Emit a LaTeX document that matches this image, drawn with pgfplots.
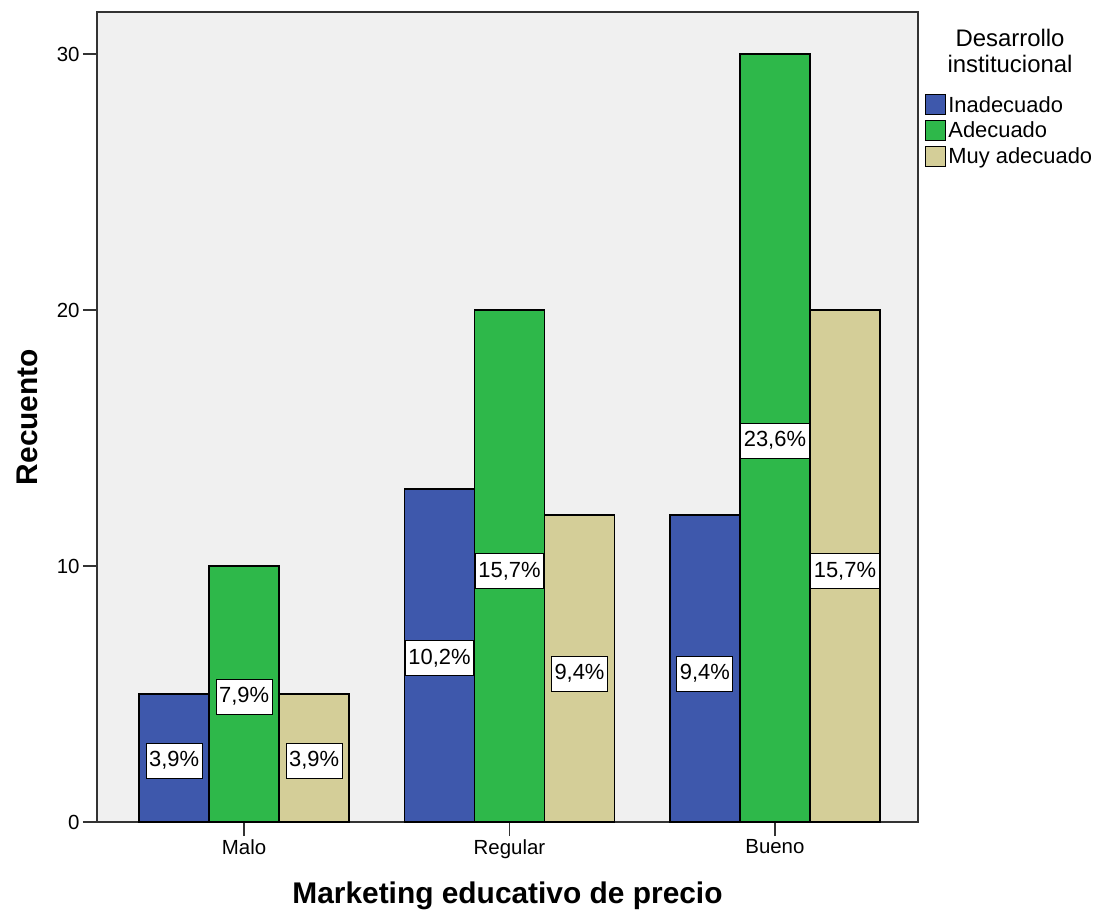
\documentclass[border=0pt]{standalone}
\usepackage{fontspec}
\setmainfont{Liberation Sans}
\usepackage{pgfplots}
\pgfplotsset{compat=1.18}
\definecolor{cblue}{HTML}{3E58AC}
\definecolor{cgreen}{HTML}{2EB84A}
\definecolor{ctan}{HTML}{D4CE98}
\definecolor{bgc}{HTML}{F0F0F0}
\definecolor{axc}{HTML}{333333}
\pgfplotsset{
  sw/.style={legend image code/.code={\draw[##1, draw=black, line width=1.2bp] (0bp,-10bp) rectangle (20bp,10bp);}},
  lab/.style={draw=none, fill=none, forget plot, nodes near coords, point meta=explicit symbolic,
    every node near coord/.append style={anchor=center, fill=white, draw=black, line width=1bp,
      font=\fontsize{22}{24}\selectfont, inner xsep=3bp, inner ysep=7.5bp, text height=16bp, text depth=4bp}},
}
\begin{document}
\begin{tikzpicture}
\begin{axis}[
  scale only axis, width=821bp, height=810bp,
  xmin=-0.554, xmax=2.539, ymin=0, ymax=31.64,
  axis background/.style={fill=bgc},
  axis line style={axc, line width=1.5bp},
  xtick={0,1,2}, xticklabels={Malo,Regular,Bueno},
  ytick={0,10,20,30},
  tick pos=left, tick align=outside,
  major tick length=14bp,
  tick style={axc, line width=1.5bp},
  ticklabel style={font=\fontsize{20.5}{24}\selectfont},
  /pgf/number format/assume math mode=true,
  xlabel={Marketing educativo de precio},
  ylabel={Recuento},
  xlabel style={font=\fontsize{30}{32}\selectfont\bfseries, at={(axis description cs:0.5,-0.1)}, anchor=base},
  ylabel style={font=\fontsize{30}{32}\selectfont\bfseries, at={(axis description cs:-0.0853,0.5)}, anchor=center},
  ybar, bar width=70bp,
  legend style={at={(rel axis cs:1,1)}, anchor=north west, xshift=7bp, yshift=-82bp,
    draw=none, fill=none, inner sep=0pt, font=\fontsize{22}{24}\selectfont,
    cells={anchor=west}, row sep=4.5bp},
]
\addplot[sw, fill=cblue, draw=black, line width=1.5bp, bar shift=-70bp] coordinates {(0,5) (1,13) (2,12)};
\addplot[sw, fill=cgreen, draw=black, line width=1.5bp, bar shift=0bp] coordinates {(0,10) (1,20) (2,30)};
\addplot[sw, fill=ctan, draw=black, line width=1.5bp, bar shift=70bp] coordinates {(0,5) (1,12) (2,20)};
\legend{Inadecuado, Adecuado, Muy adecuado}
\addplot[lab, bar shift=-70bp] coordinates {(0,2.4)[3,9\%] (1,6.4)[10,2\%] (2,5.8)[9,4\%]};
\addplot[lab, bar shift=0bp] coordinates {(0,4.9)[7,9\%] (1,9.8)[15,7\%] (2,14.9)[23,6\%]};
\addplot[lab, bar shift=70bp] coordinates {(0,2.4)[3,9\%] (1,5.8)[9,4\%] (2,9.8)[15,7\%]};
\coordinate (O) at (rel axis cs:0,0);
\coordinate (TR) at (rel axis cs:1,1);
\end{axis}
\node[align=center, anchor=north, font=\fontsize{24}{26}\selectfont, inner sep=0pt] at ([xshift=92bp, yshift=-17bp]TR) {Desarrollo\\institucional};
\pgfresetboundingbox
\path[use as bounding box] ([xshift=-97bp, yshift=-88bp]O) rectangle ++(1096bp,910bp);
\end{tikzpicture}
\end{document}
